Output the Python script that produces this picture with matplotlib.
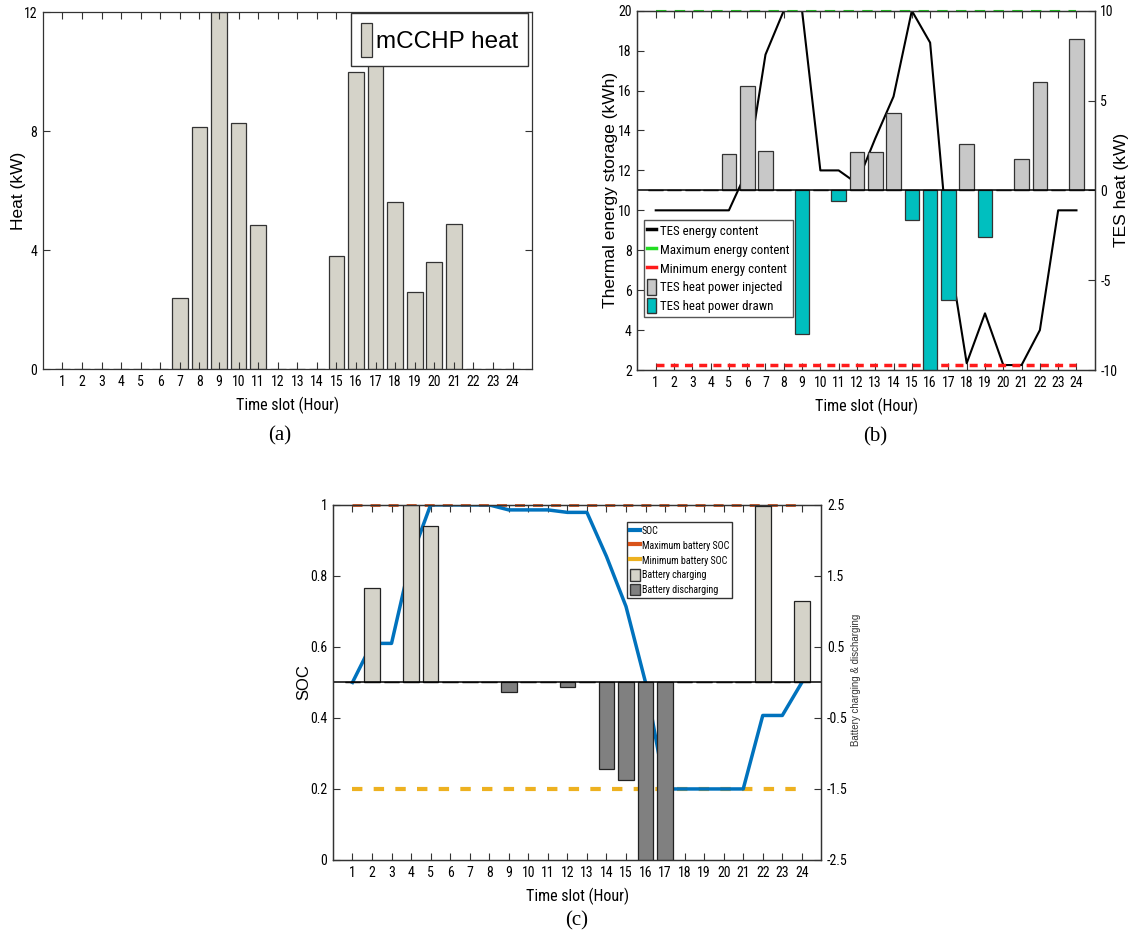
import numpy as np
import matplotlib
matplotlib.use("Agg")
import matplotlib.pyplot as plt
from matplotlib.lines import Line2D
from matplotlib.patches import Patch

# data
hours = list(range(1, 25))
hour_labels = [str(h) for h in hours]

# (a) mCCHP heat (kW)
mcchp_heat = [0, 0, 0, 0, 0, 0, 2.41, 8.13, 12.0, 8.28, 4.85, 0,
              0, 0, 3.80, 10.0, 10.23, 5.62, 2.59, 3.60, 4.89, 0, 0, 0]

# (b) thermal energy storage
tes_energy = [10, 10, 10, 10, 10, 12.0, 17.8, 20, 20, 12, 12, 11.35,
              13.6, 15.7, 20, 18.4, 8.1, 2.34, 4.84, 2.25, 2.25, 4.0, 10, 10]
tes_injected = [0, 0, 0, 0, 2.0, 5.79, 2.21, 0, 0, 0, 0, 2.15,
                2.15, 4.29, 0, 0, 0, 2.6, 0, 0, 1.76, 6.01, 0, 8.44]
tes_drawn = [0, 0, 0, 0, 0, 0, 0, 0, -8.0, 0, -0.59, 0,
             0, 0, -1.67, -10.0, -6.1, 0, -2.6, 0, 0, 0, 0, 0]
tes_max = 20
tes_min = 2.25

# (c) battery
soc = [0.5, 0.61, 0.61, 0.85, 1.0, 1.0, 1.0, 1.0, 0.986, 0.986, 0.986, 0.979,
       0.979, 0.855, 0.714, 0.5, 0.2, 0.2, 0.2, 0.2, 0.2, 0.407, 0.407, 0.5]
batt_charge = [0, 1.33, 0, 2.5, 2.21, 0, 0, 0, 0, 0, 0, 0,
               0, 0, 0, 0, 0, 0, 0, 0, 0, 2.48, 0, 1.14]
batt_discharge = [0, 0, 0, 0, 0, 0, 0, 0, -0.14, 0, 0, -0.06,
                  0, -1.22, -1.37, -2.5, -2.5, 0, 0, 0, 0, 0, 0, 0]
soc_max = 1.0
soc_min = 0.2

narrow = ['Liberation Sans Narrow', 'Roboto Condensed', 'Liberation Sans', 'DejaVu Sans']
sans = ['Liberation Sans', 'DejaVu Sans']
serif = ['Liberation Serif', 'DejaVu Serif']
spine_col = '#333333'


def style_axis(ax):
    for s in ax.spines.values():
        s.set_color(spine_col)
        s.set_linewidth(0.9)
    ax.tick_params(direction='in', length=5, width=0.8, color=spine_col,
                   labelsize=10, pad=4)
    for lab in ax.get_xticklabels() + ax.get_yticklabels():
        lab.set_family(narrow)


fig = plt.figure(figsize=(11.32, 9.38), dpi=100)

# ---------------- (a)
ax_a = fig.add_axes([0.0379, 0.6063, 0.4322, 0.3806])
ax_a.bar(hours, mcchp_heat, width=0.8, color='#d5d3c9', edgecolor='#333333',
         linewidth=0.9, label='mCCHP heat')
ax_a.set_xlim(0, 25)
ax_a.set_ylim(0, 12)
ax_a.set_yticks([0, 4, 8, 12])
ax_a.set_xticks(hours)
ax_a.set_xticklabels(hour_labels)
ax_a.tick_params(top=True, right=True)
style_axis(ax_a)
ax_a.set_ylabel('Heat (kW)', family=sans, fontsize=12.5)
ax_a.yaxis.set_label_coords(-0.0345, 0.5)
ax_a.set_xlabel('Time slot (Hour)', family=narrow, fontsize=11.5, labelpad=6)
ax_a.legend(loc='upper right', bbox_to_anchor=(0.9906, 0.997), borderaxespad=0,
            prop={'family': sans, 'size': 17.5}, handlelength=0.45, handleheight=1.75,
            handletextpad=0.15, fancybox=False, edgecolor='#333333', framealpha=1,
            borderpad=0.4)
fig.text(280 / 1132, 1 - 436 / 938, '(a)', family=serif, fontsize=15,
         ha='center', va='center')

# ---------------- (b)
ax_b = fig.add_axes([0.5631, 0.6055, 0.4040, 0.3831])
ax_b.plot(hours, tes_energy, color='black', lw=1.5)
ax_b.plot(hours, [tes_max] * 24, color='#22dd22', lw=1.5, dashes=(5, 4), clip_on=False)
ax_b.plot(hours, [tes_min] * 24, color='#ff1a1a', lw=2.5, dashes=(2.3, 1.8))
ax_b.set_xlim(0, 25)
ax_b.set_ylim(2, 20)
ax_b.set_yticks(range(2, 21, 2))
ax_b.set_xticks(hours)
ax_b.set_xticklabels(hour_labels)
ax_b.tick_params(top=True)
style_axis(ax_b)
ax_b.set_ylabel('Thermal energy storage (kWh)', family=sans, fontsize=12.5)
ax_b.yaxis.set_label_coords(-0.0435, 0.5)
ax_b.set_xlabel('Time slot (Hour)', family=narrow, fontsize=11.5, labelpad=6)

ax_b2 = ax_b.twinx()
ax_b2.bar(hours, tes_injected, width=0.8, color='#c8c8c8', edgecolor='#333333', linewidth=0.9)
ax_b2.bar(hours, tes_drawn, width=0.8, color='#00bfbf', edgecolor='#333333', linewidth=0.9)
ax_b2.axhline(0, color='black', lw=1.1)
ax_b2.set_ylim(-10, 10)
ax_b2.set_yticks([-10, -5, 0, 5, 10])
ax_b2.set_yticklabels(['-10', '-5', '0', '5', '10'])
style_axis(ax_b2)
ax_b2.set_ylabel('TES heat (kW)', family=sans, fontsize=12.5)
ax_b2.yaxis.set_label_coords(1.0411, 0.5)

handles_b = [Line2D([], [], color='black', lw=2.5),
             Line2D([], [], color='#22dd22', lw=2.5),
             Line2D([], [], color='#ff1a1a', lw=2.5),
             Patch(facecolor='#c8c8c8', edgecolor='#333333'),
             Patch(facecolor='#00bfbf', edgecolor='#333333')]
labels_b = ['TES energy content', 'Maximum energy content', 'Minimum energy content',
            'TES heat power injected', 'TES heat power drawn']
ax_b2.legend(handles_b, labels_b, loc='upper left', bbox_to_anchor=(0.0136, 0.4175),
             borderaxespad=0, prop={'family': narrow, 'size': 9.3}, handlelength=0.7,
             handleheight=1.5, handletextpad=0.3, labelspacing=0.22, fancybox=False,
             edgecolor='#555555', framealpha=1, borderpad=0.25)
fig.text(875 / 1132, 1 - 437 / 938, '(b)', family=serif, fontsize=15,
         ha='center', va='center')

# ---------------- (c)
ax_c = fig.add_axes([0.2941, 0.0832, 0.4315, 0.3785])
ax_c.plot(hours, [soc_max] * 24, color='#D95319', lw=2, dashes=(3.6, 2.9), clip_on=False)
ax_c.plot(hours, [soc_min] * 24, color='#EDB120', lw=3, dashes=(2.5, 2.7))
ax_c.plot(hours, soc, color='#0072BD', lw=2.5)
ax_c.set_xlim(0, 25)
ax_c.set_ylim(0, 1)
ax_c.set_yticks([0, 0.2, 0.4, 0.6, 0.8, 1])
ax_c.set_yticklabels(['0', '0.2', '0.4', '0.6', '0.8', '1'])
ax_c.set_xticks(hours)
ax_c.set_xticklabels(hour_labels)
ax_c.tick_params(top=True)
style_axis(ax_c)
ax_c.set_ylabel('SOC', family=sans, fontsize=12)
ax_c.yaxis.set_label_coords(-0.0436, 0.5)
ax_c.set_xlabel('Time slot (Hour)', family=narrow, fontsize=11.5, labelpad=6)

ax_c2 = ax_c.twinx()
ax_c2.bar(hours, batt_charge, width=0.8, color='#d5d3c9', edgecolor='#222222', linewidth=0.9)
ax_c2.bar(hours, batt_discharge, width=0.8, color='#808080', edgecolor='#222222', linewidth=0.9)
ax_c2.axhline(0, color='black', lw=1.1)
ax_c2.set_ylim(-2.5, 2.5)
ax_c2.set_yticks([-2.5, -1.5, -0.5, 0.5, 1.5, 2.5])
ax_c2.set_yticklabels(['-2.5', '-1.5', '-0.5', '0.5', '1.5', '2.5'])
style_axis(ax_c2)
fig.text(856 / 1132, 1 - 680 / 938, 'Battery charging & discharging', family=sans,
         fontsize=7, rotation=90, ha='center', va='center', color='#333333')

handles_c = [Line2D([], [], color='#0072BD', lw=3),
             Line2D([], [], color='#D95319', lw=3),
             Line2D([], [], color='#EDB120', lw=3),
             Patch(facecolor='#d5d3c9', edgecolor='#333333'),
             Patch(facecolor='#808080', edgecolor='#333333')]
labels_c = ['SOC', 'Maximum battery SOC', 'Minimum battery SOC',
            'Battery charging', 'Battery discharging']
ax_c2.legend(handles_c, labels_c, loc='upper left', bbox_to_anchor=(0.603, 0.951),
             borderaxespad=0, prop={'family': narrow, 'size': 7.2}, handlelength=1.0,
             handleheight=1.4, handletextpad=0.15, labelspacing=0.3, fancybox=False,
             edgecolor='#333333', framealpha=1, borderpad=0.3)
fig.text(577 / 1132, 1 - 921 / 938, '(c)', family=serif, fontsize=15,
         ha='center', va='center')

fig.savefig('out.png', dpi=100)
